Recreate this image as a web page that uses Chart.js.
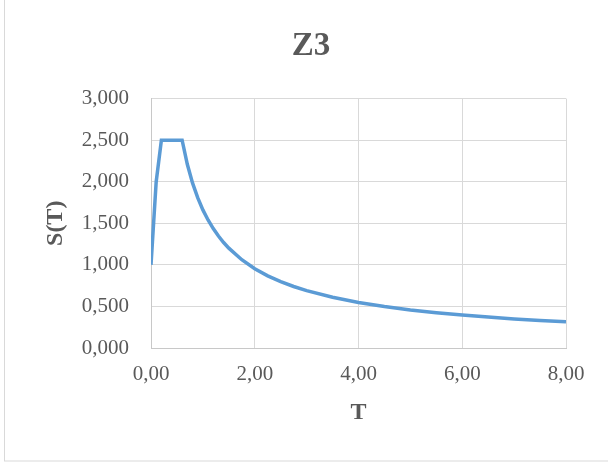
<!DOCTYPE html>
<html>
<head>
<meta charset="utf-8">
<script src="https://cdn.jsdelivr.net/npm/chart.js@4"></script>
<style>
  html, body { margin: 0; padding: 0; background: #fff; overflow: hidden; }
  #wrap { position: absolute; left: 0; top: 0; width: 622px; height: 465px; }
</style>
</head>
<body>
<div id="wrap"><canvas id="myChart"></canvas></div>
<script>
// period T (s) and spectrum value S(T)
var tValues = [0, 0.1, 0.2, 0.3, 0.4, 0.5, 0.6, 0.7, 0.8, 0.9, 1.0, 1.1, 1.2, 1.3, 1.4, 1.5,
  1.75, 2.0, 2.25, 2.5, 2.75, 3.0, 3.5, 4.0, 4.5, 5.0, 5.5, 6.0, 6.5, 7.0, 7.5, 8.0];
var sValues = [1.0, 2.0, 2.5, 2.5, 2.5, 2.5, 2.5, 2.21, 1.986, 1.808, 1.661, 1.54, 1.436, 1.347, 1.269, 1.201,
  1.062, 0.954, 0.868, 0.798, 0.74, 0.69, 0.61, 0.548, 0.499, 0.458, 0.425, 0.396, 0.372, 0.35, 0.331, 0.315];
var xTicks = [0, 2, 4, 6, 8];
var yTicks = [0, 0.5, 1, 1.5, 2, 2.5, 3];

var grey = "#595959";
var serif = "'Liberation Serif', 'Times New Roman', serif";

function makePoints() {
  var pts = [];
  for (var i = 0; i < tValues.length; i++) {
    pts.push({ x: tValues[i], y: sValues[i] });
  }
  return pts;
}

// light grey frame of the chart box (right and top edges fall outside the picture)
var frame = {
  id: "frame",
  beforeDraw: function (chart) {
    var ctx = chart.ctx;
    ctx.save();
    ctx.fillStyle = "#fff";
    ctx.fillRect(0, 0, chart.width, chart.height);
    ctx.strokeStyle = "#d9d9d9";
    ctx.lineWidth = 1;
    ctx.strokeRect(4.5, -5, 700, 466);
    ctx.restore();
  }
};

function makeChart() {
  var ctx = document.getElementById("myChart").getContext("2d");
  var chart = new Chart(ctx, {
    type: "scatter",
    data: {
      datasets: [
        {
          label: "S(T)",
          data: makePoints(),
          showLine: true,
          borderColor: "#5b9bd5",
          backgroundColor: "#5b9bd5",
          borderWidth: 3.5,
          pointRadius: 0,
          tension: 0
        }
      ]
    },
    options: {
      responsive: true,
      maintainAspectRatio: false,
      animation: false,
      layout: { padding: 0 },
      plugins: {
        legend: { display: false },
        tooltip: { enabled: false },
        title: {
          display: true,
          text: "Z3",
          color: grey,
          font: { family: serif, size: 33, weight: "bold" },
          padding: { top: 27, bottom: 32 }
        }
      },
      scales: {
        x: {
          type: "linear",
          min: 0,
          max: 8,
          afterBuildTicks: function (s) { s.ticks = xTicks.map(function (v) { return { value: v }; }); },
          afterFit: function (s) { s.height = 117; },
          grid: { color: "#d9d9d9", lineWidth: 1, drawTicks: false },
          border: { color: "#c8c8c8", width: 1 },
          ticks: {
            color: grey,
            padding: 14,
            maxRotation: 0,
            font: { family: serif, size: 21 },
            callback: function (v) { return v.toFixed(2).replace(".", ","); }
          },
          title: {
            display: true,
            text: "T",
            color: grey,
            font: { family: serif, size: 24, weight: "bold" },
            padding: { top: 0, bottom: 38 }
          }
        },
        y: {
          min: 0,
          max: 3,
          afterBuildTicks: function (s) { s.ticks = yTicks.map(function (v) { return { value: v }; }); },
          afterFit: function (s) { s.width = 151; },
          grid: { color: "#d9d9d9", lineWidth: 1, drawTicks: false },
          border: { color: "#c8c8c8", width: 1 },
          ticks: {
            color: grey,
            padding: 22,
            font: { family: serif, size: 21 },
            callback: function (v) { return v.toFixed(3).replace(".", ","); }
          },
          title: {
            display: true,
            text: "S(T)",
            color: grey,
            font: { family: serif, size: 24, weight: "bold" },
            padding: { top: 41, bottom: 0 }
          }
        },
        // empty spacer on the right so the title stays centred on the whole chart box
        spacer: {
          type: "linear",
          position: "right",
          min: 0,
          max: 1,
          afterFit: function (s) { s.width = 56; },
          grid: { display: false, drawTicks: false },
          border: { display: false },
          ticks: { display: false }
        }
      }
    },
    plugins: [frame]
  });
}
window.onload = makeChart;
</script>
</body>
</html>
